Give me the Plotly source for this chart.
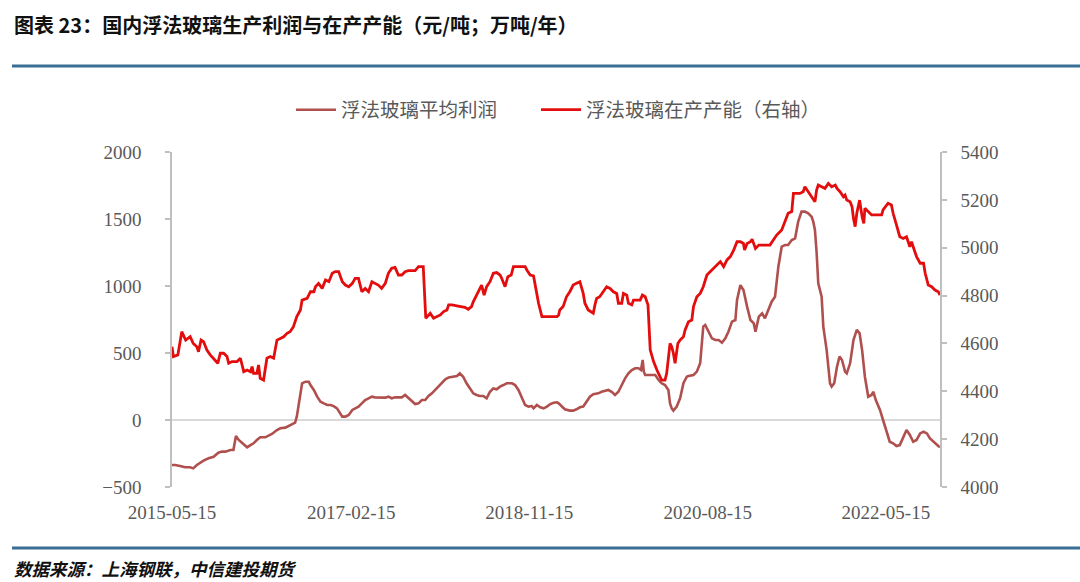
import plotly.graph_objects as go

# ---------------- data ----------------
profit_dates = [
    "2015-05-15", "2015-05-26", "2015-06-13", "2015-07-01", "2015-07-19", "2015-07-30", "2015-08-12",
    "2015-08-24", "2015-09-05", "2015-09-23", "2015-10-11", "2015-10-28", "2015-11-10", "2015-11-22",
    "2015-12-10", "2015-12-21", "2015-12-30", "2016-01-09", "2016-01-21", "2016-02-08", "2016-02-20",
    "2016-03-02", "2016-03-14", "2016-03-26", "2016-04-13", "2016-04-25", "2016-05-07", "2016-05-25",
    "2016-06-06", "2016-06-24", "2016-07-05", "2016-07-17", "2016-07-29", "2016-08-04", "2016-08-10",
    "2016-08-23", "2016-09-04", "2016-09-16", "2016-09-22", "2016-10-04", "2016-10-16", "2016-10-28",
    "2016-11-09", "2016-11-21", "2016-12-03", "2016-12-14", "2016-12-26", "2017-01-08", "2017-01-14",
    "2017-01-25", "2017-02-06", "2017-02-19", "2017-03-01", "2017-03-13", "2017-03-25", "2017-04-06",
    "2017-04-18", "2017-04-30", "2017-05-11", "2017-06-04", "2017-06-17", "2017-06-28", "2017-07-10",
    "2017-07-22", "2017-08-15", "2017-08-27", "2017-09-08", "2017-09-21", "2017-10-02", "2017-10-14",
    "2017-10-26", "2017-11-07", "2017-11-19", "2017-12-01", "2017-12-13", "2017-12-25", "2018-01-06",
    "2018-01-18", "2018-01-30", "2018-02-17", "2018-03-01", "2018-03-11", "2018-03-23", "2018-04-04",
    "2018-04-17", "2018-04-28", "2018-05-10", "2018-05-22", "2018-06-03", "2018-06-15", "2018-06-27",
    "2018-07-09", "2018-07-21", "2018-08-02", "2018-08-14", "2018-08-26", "2018-09-14", "2018-09-25",
    "2018-10-07", "2018-10-19", "2018-10-31", "2018-11-12", "2018-11-24", "2018-11-30", "2018-12-12",
    "2018-12-24", "2019-01-05", "2019-01-17", "2019-01-29", "2019-02-10", "2019-02-22", "2019-02-28",
    "2019-03-11", "2019-03-22", "2019-04-09", "2019-04-21", "2019-05-03", "2019-05-15", "2019-05-27",
    "2019-06-08", "2019-06-20", "2019-07-02", "2019-07-20", "2019-08-01", "2019-08-13", "2019-08-25",
    "2019-09-06", "2019-09-18", "2019-09-30", "2019-10-12", "2019-10-24", "2019-11-05", "2019-11-17",
    "2019-11-29", "2019-12-11", "2019-12-20", "2019-12-26", "2019-12-30", "2020-01-04", "2020-01-22",
    "2020-02-09", "2020-02-21", "2020-03-03", "2020-03-15", "2020-03-27", "2020-04-02", "2020-04-08",
    "2020-04-14", "2020-04-26", "2020-05-08", "2020-05-20", "2020-06-01", "2020-06-07", "2020-06-25",
    "2020-07-07", "2020-07-19", "2020-07-25", "2020-07-30", "2020-08-06", "2020-08-18", "2020-08-30",
    "2020-09-11", "2020-09-23", "2020-10-05", "2020-10-17", "2020-10-28", "2020-11-10", "2020-11-22",
    "2020-11-28", "2020-12-10", "2020-12-21", "2021-01-03", "2021-01-15", "2021-01-27", "2021-02-02",
    "2021-02-14", "2021-02-26", "2021-03-08", "2021-03-20", "2021-04-01", "2021-04-13", "2021-04-25",
    "2021-05-07", "2021-05-19", "2021-05-30", "2021-06-12", "2021-06-24", "2021-07-05", "2021-07-17",
    "2021-07-29", "2021-08-10", "2021-08-22", "2021-08-28", "2021-09-03", "2021-09-09", "2021-09-15",
    "2021-09-27", "2021-10-03", "2021-10-15", "2021-10-27", "2021-11-02", "2021-11-11", "2021-11-21",
    "2021-11-30", "2021-12-09", "2021-12-20", "2021-12-26", "2022-01-07", "2022-01-19", "2022-01-31",
    "2022-02-10", "2022-02-19", "2022-03-01", "2022-03-13", "2022-03-25", "2022-03-31", "2022-04-09",
    "2022-04-24", "2022-05-05", "2022-05-17", "2022-05-29", "2022-06-10", "2022-06-22", "2022-07-04",
    "2022-07-16", "2022-07-28", "2022-08-09", "2022-08-21", "2022-09-02", "2022-09-15", "2022-09-27",
    "2022-10-09", "2022-10-20", "2022-11-01", "2022-11-19", "2022-11-25",
]
profit_values = [
    -336, -336, -343, -353, -353, -361, -336,
    -318, -303, -286, -274, -244, -236, -236,
    -224, -224, -119, -149, -174, -204, -187,
    -174, -149, -129, -129, -119, -104, -75,
    -62, -57, -45, -30, -20, 25, 100,
    274, 286, 286, 261, 224, 174, 137,
    124, 112, 112, 104, 87, 50, 25,
    25, 37, 75, 87, 100, 124, 149,
    162, 174, 169, 169, 167, 174, 162,
    169, 169, 187, 162, 137, 119, 124,
    149, 149, 179, 199, 224, 249, 274,
    304, 318, 323, 328, 348, 323, 274,
    236, 199, 187, 179, 179, 162, 211,
    236, 229, 249, 261, 274, 274, 261,
    224, 162, 112, 100, 104, 87, 112,
    95, 87, 100, 119, 129, 132, 124,
    100, 80, 70, 70, 80, 95, 100,
    137, 174, 192, 199, 211, 219, 224,
    211, 187, 211, 261, 311, 348, 373,
    386, 386, 373, 448, 361, 336, 336,
    336, 299, 274, 261, 224, 124, 87,
    70, 100, 162, 274, 323, 328, 336,
    361, 423, 547, 697, 709, 659, 609,
    597, 597, 577, 609, 659, 734, 746,
    896, 1007, 970, 846, 746, 721, 659,
    771, 796, 759, 821, 883, 920, 1144,
    1294, 1306, 1306, 1343, 1356, 1480, 1555,
    1555, 1543, 1517, 1480, 1418, 1250, 1020,
    920, 697, 522, 274, 249, 274, 398,
    473, 448, 361, 348, 423, 597, 672,
    647, 522, 323, 174, 187, 211, 149,
    75, 0, -87, -162, -174, -194, -187,
    -124, -75, -112, -162, -149, -100, -87,
    -100, -137, -162, -194, -204,
]

cap_dates = [
    "2015-05-15", "2015-05-20", "2015-06-05", "2015-06-19", "2015-07-03", "2015-07-19", "2015-07-30",
    "2015-08-12", "2015-08-18", "2015-08-27", "2015-09-05", "2015-09-17", "2015-09-29", "2015-10-17",
    "2015-10-26", "2015-11-04", "2015-11-16", "2015-11-28", "2015-12-04", "2015-12-16", "2016-01-03",
    "2016-01-15", "2016-01-27", "2016-02-08", "2016-02-20", "2016-02-26", "2016-03-02", "2016-03-14",
    "2016-03-20", "2016-03-26", "2016-04-07", "2016-04-19", "2016-05-01", "2016-05-13", "2016-05-25",
    "2016-06-06", "2016-06-18", "2016-06-30", "2016-07-11", "2016-07-23", "2016-08-04", "2016-08-17",
    "2016-08-23", "2016-09-10", "2016-09-22", "2016-10-04", "2016-10-10", "2016-10-21", "2016-11-03",
    "2016-11-15", "2016-11-27", "2016-12-09", "2016-12-20", "2017-01-01", "2017-01-14", "2017-01-25",
    "2017-02-06", "2017-02-19", "2017-03-01", "2017-03-13", "2017-03-25", "2017-04-06", "2017-04-18",
    "2017-04-30", "2017-05-11", "2017-05-23", "2017-06-04", "2017-06-17", "2017-06-28", "2017-07-10",
    "2017-07-22", "2017-08-03", "2017-08-15", "2017-08-27", "2017-09-08", "2017-10-02", "2017-10-14",
    "2017-10-31", "2017-11-09", "2017-11-14", "2017-11-25", "2017-12-07", "2017-12-19", "2017-12-31",
    "2018-01-12", "2018-01-24", "2018-01-30", "2018-02-11", "2018-03-05", "2018-03-29", "2018-04-10",
    "2018-04-22", "2018-04-28", "2018-05-10", "2018-05-22", "2018-05-28", "2018-06-06", "2018-06-15",
    "2018-06-27", "2018-07-09", "2018-07-21", "2018-08-02", "2018-08-08", "2018-08-20", "2018-08-30",
    "2018-09-11", "2018-09-19", "2018-10-01", "2018-10-19", "2018-10-31", "2018-11-06", "2018-11-18",
    "2018-11-30", "2018-12-06", "2018-12-18", "2018-12-30", "2019-01-11", "2019-02-04", "2019-02-22",
    "2019-02-28", "2019-03-04", "2019-03-16", "2019-03-22", "2019-03-28", "2019-04-09", "2019-04-21",
    "2019-05-03", "2019-05-15", "2019-05-27", "2019-06-02", "2019-06-14", "2019-07-02", "2019-07-08",
    "2019-07-14", "2019-07-25", "2019-08-06", "2019-08-19", "2019-08-31", "2019-09-12", "2019-09-24",
    "2019-09-30", "2019-10-12", "2019-10-18", "2019-10-30", "2019-11-05", "2019-11-17", "2019-11-23",
    "2019-12-17", "2019-12-25", "2020-01-04", "2020-01-14", "2020-01-22", "2020-02-03", "2020-02-15",
    "2020-03-03", "2020-03-15", "2020-03-21", "2020-04-02", "2020-04-08", "2020-04-14", "2020-04-20",
    "2020-04-30", "2020-05-08", "2020-05-20", "2020-05-26", "2020-06-07", "2020-06-19", "2020-06-25",
    "2020-07-07", "2020-07-19", "2020-07-30", "2020-08-12", "2020-08-24", "2020-09-05", "2020-09-17",
    "2020-09-29", "2020-10-11", "2020-10-23", "2020-11-04", "2020-11-16", "2020-11-28", "2020-12-10",
    "2020-12-21", "2020-12-25", "2021-01-03", "2021-01-15", "2021-01-21", "2021-02-02", "2021-02-14",
    "2021-03-08", "2021-03-26", "2021-04-07", "2021-04-19", "2021-05-07", "2021-05-19", "2021-05-30",
    "2021-06-12", "2021-06-18", "2021-06-30", "2021-07-11", "2021-07-23", "2021-07-29", "2021-08-10",
    "2021-08-22", "2021-08-28", "2021-09-03", "2021-09-09", "2021-09-15", "2021-09-27", "2021-10-09",
    "2021-10-21", "2021-11-02", "2021-11-15", "2021-11-21", "2021-12-02", "2021-12-14", "2021-12-20",
    "2021-12-26", "2022-01-07", "2022-01-14", "2022-01-19", "2022-01-25", "2022-01-31", "2022-02-10",
    "2022-02-19", "2022-02-25", "2022-03-01", "2022-03-13", "2022-03-25", "2022-04-12", "2022-04-30",
    "2022-05-05", "2022-05-23", "2022-06-04", "2022-06-10", "2022-06-22", "2022-07-04", "2022-07-16",
    "2022-07-28", "2022-08-09", "2022-08-15", "2022-08-27", "2022-09-02", "2022-09-15", "2022-09-27",
    "2022-10-03", "2022-10-14", "2022-10-26", "2022-11-07", "2022-11-19", "2022-11-25",
]
cap_values = [
    4586, 4545, 4552, 4649, 4614, 4628, 4600,
    4586, 4565, 4614, 4607, 4572, 4552, 4531,
    4517, 4559, 4559, 4545, 4517, 4524, 4524,
    4538, 4482, 4489, 4482, 4503, 4475, 4475,
    4510, 4454, 4447, 4538, 4545, 4538, 4614,
    4621, 4628, 4642, 4649, 4670, 4712, 4740,
    4781, 4788, 4816, 4816, 4837, 4851, 4830,
    4865, 4858, 4893, 4900, 4900, 4858, 4844,
    4837, 4851, 4872, 4872, 4816, 4830, 4816,
    4858, 4851, 4844, 4830, 4851, 4893, 4914,
    4918, 4886, 4886, 4900, 4904, 4904, 4921,
    4921, 4705, 4712, 4726, 4705, 4712, 4719,
    4733, 4740, 4761, 4761, 4756, 4751, 4743,
    4754, 4774, 4802, 4837, 4844, 4802, 4837,
    4858, 4893, 4896, 4886, 4872, 4837, 4879,
    4886, 4921, 4921, 4921, 4921, 4907, 4886,
    4882, 4844, 4768, 4712, 4712, 4712, 4712,
    4719, 4740, 4754, 4775, 4795, 4816, 4844,
    4851, 4858, 4809, 4768, 4740, 4726, 4761,
    4788, 4795, 4816, 4837, 4830, 4816, 4809,
    4768, 4768, 4809, 4802, 4768, 4761, 4781,
    4781, 4802, 4795, 4761, 4573, 4524, 4489,
    4447, 4447, 4475, 4600, 4586, 4559, 4517,
    4600, 4614, 4628, 4656, 4691, 4698, 4754,
    4795, 4809, 4837, 4886, 4900, 4914, 4928,
    4942, 4921, 4949, 4963, 4990, 5025, 5025,
    5018, 4990, 5018, 5025, 5035, 4997, 5011,
    5011, 5011, 5032, 5053, 5074, 5109, 5144,
    5151, 5227, 5227, 5227, 5234, 5255, 5234,
    5213, 5199, 5192, 5241, 5262, 5255, 5248,
    5269, 5255, 5262, 5248, 5234, 5213, 5220,
    5199, 5192, 5171, 5123, 5088, 5144, 5199,
    5130, 5102, 5165, 5151, 5137, 5137, 5137,
    5158, 5186, 5179, 5144, 5095, 5046, 5039,
    5046, 5004, 5025, 4983, 4963, 4935, 4935,
    4893, 4844, 4837, 4823, 4816, 4802,
]

x_tick_dates = ["2015-05-15", "2017-02-15", "2018-11-15", "2020-08-15", "2022-05-15"]
x_range = ["2015-05-15", "2022-11-25"]
left_ticks = [-500, 0, 500, 1000, 1500, 2000]
right_ticks = [4000, 4200, 4400, 4600, 4800, 5000, 5200, 5400]

series_names = ["浮法玻璃平均利润", "浮法玻璃在产产能（右轴）"]
title_text = "图表 23：国内浮法玻璃生产利润与在产产能（元/吨；万吨/年）"
source_text = "数据来源：上海钢联，中信建投期货"

# ---------------- style ----------------
BROWN = "#b0504e"
RED = "#e30d0d"
AXIS = "#bfbfbf"
TXT = "#595959"
BAR = "#3b6e96"
CJK = "Noto Sans CJK SC"
SERIF = "Liberation Serif"

W, H = 1080, 582
L, R, T, B = 172, 140, 152, 95
pw, ph = W - L - R, H - T - B


def px_x(p):
    return (p - L) / pw


def px_y(p):
    return (H - B - p) / ph


fig = go.Figure()
fig.add_trace(go.Scatter(
    x=profit_dates, y=profit_values, mode="lines", name=series_names[0],
    line=dict(color=BROWN, width=2.6), yaxis="y", legend="legend",
))
fig.add_trace(go.Scatter(
    x=cap_dates, y=cap_values, mode="lines", name=series_names[1],
    line=dict(color=RED, width=2.8), yaxis="y2", legend="legend2",
))

legend_common = dict(
    orientation="h", xanchor="left", y=px_y(110), yanchor="middle",
    font=dict(family=CJK, size=19.5, color=TXT), itemwidth=40,
    bgcolor="rgba(0,0,0,0)",
)

fig.update_layout(
    width=W, height=H, autosize=False,
    margin=dict(l=L, r=R, t=T, b=B, pad=0),
    paper_bgcolor="white", plot_bgcolor="white",
    showlegend=True,
    legend=dict(x=px_x(291), **legend_common),
    legend2=dict(x=px_x(536), **legend_common),
    xaxis=dict(
        type="date", range=x_range, tickvals=x_tick_dates, ticktext=x_tick_dates,
        showgrid=False, zeroline=False, showline=False, ticks="",
        tickfont=dict(family=SERIF, size=19, color=TXT), ticklabelstandoff=12,
    ),
    xaxis2=dict(
        type="date", overlaying="x", matches="x", anchor="free", position=px_y(420),
        tickvals=x_tick_dates, showticklabels=False, ticks="outside", ticklen=5,
        tickcolor=AXIS, showgrid=False, zeroline=False, showline=False,
    ),
    yaxis=dict(
        range=[-500, 2000], tickvals=left_ticks, showgrid=False,
        showline=True, linecolor=AXIS, linewidth=1.5,
        ticks="outside", ticklen=5, tickcolor=AXIS, tickwidth=1.5,
        zeroline=True, zerolinecolor="#d9d9d9", zerolinewidth=1.5,
        tickfont=dict(family=SERIF, size=19, color=TXT), ticklabelstandoff=20,
    ),
    yaxis2=dict(
        range=[4000, 5400], tickvals=right_ticks, overlaying="y", side="right",
        showgrid=False, zeroline=False, showline=True, linecolor=AXIS, linewidth=1.5,
        ticks="outside", ticklen=5, tickcolor=AXIS, tickwidth=1.5,
        tickfont=dict(family=SERIF, size=19, color=TXT), ticklabelstandoff=10,
    ),
    shapes=[
        dict(type="line", xref="paper", yref="paper", x0=px_x(12), x1=px_x(1080),
             y0=px_y(66), y1=px_y(66), line=dict(color=BAR, width=3)),
        dict(type="line", xref="paper", yref="paper", x0=px_x(12), x1=px_x(1080),
             y0=px_y(548), y1=px_y(548), line=dict(color=BAR, width=3)),
    ],
    annotations=[
        dict(text="<b>" + title_text + "</b>", xref="paper", yref="paper",
             x=px_x(12), y=px_y(25), xanchor="left", yanchor="middle", showarrow=False,
             font=dict(family=CJK, size=20, color="#111111")),
        dict(text="<b><i>" + source_text + "</i></b>", xref="paper", yref="paper",
             x=px_x(12), y=px_y(568), xanchor="left", yanchor="middle", showarrow=False,
             font=dict(family=CJK, size=17.5, color="#111111")),
    ],
)

fig.write_html("out.html")
